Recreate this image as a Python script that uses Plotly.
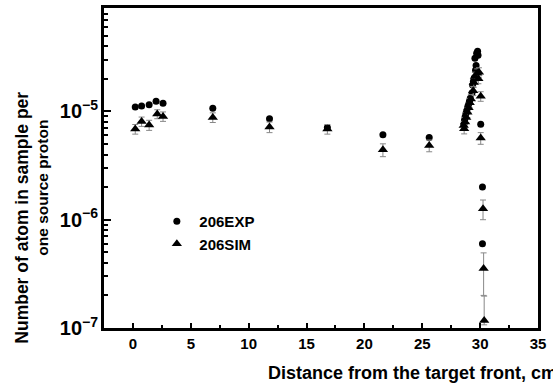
import plotly.graph_objects as go

# ---- data ----
exp_x = [0.2, 0.75, 1.4, 2.0, 2.6, 6.9, 11.8, 16.8, 21.6, 25.6,
         28.60, 28.65, 28.70, 28.78, 28.85, 28.92, 29.00, 29.08, 29.15, 29.30,
         29.35, 29.42, 29.50, 29.60, 29.65, 29.55, 29.70, 29.78, 29.82,
         30.05, 30.2, 30.2]
exp_y = [1.10e-5, 1.12e-5, 1.15e-5, 1.24e-5, 1.19e-5, 1.07e-5, 8.55e-6, 7.1e-6, 6.08e-6, 5.75e-6,
         7.6e-6, 8.3e-6, 8.9e-6, 9.6e-6, 1.02e-5, 1.09e-5, 1.16e-5, 1.24e-5, 1.32e-5, 1.48e-5,
         1.75e-5, 1.90e-5, 2.05e-5, 2.40e-5, 2.65e-5, 3.10e-5, 3.45e-5, 3.60e-5, 3.30e-5,
         7.6e-6, 2.0e-6, 6.0e-7]

sim_x = [0.2, 0.75, 1.4, 2.1, 2.6, 6.9, 11.8, 16.8, 21.6, 25.6,
         28.62, 28.58, 28.70, 28.80, 28.90, 29.00, 29.10, 29.20, 29.40, 29.45,
         29.55, 29.75, 29.90, 29.85, 30.05,
         30.05, 30.25, 30.3, 30.35]
sim_y = [6.87e-6, 8.07e-6, 7.48e-6, 9.46e-6, 8.99e-6, 8.8e-6, 7.17e-6, 6.87e-6, 4.42e-6, 4.84e-6,
         6.9e-6, 7.4e-6, 8.0e-6, 8.8e-6, 9.8e-6, 1.08e-5, 1.20e-5, 1.30e-5, 1.55e-5, 1.85e-5,
         2.10e-5, 2.25e-5, 2.30e-5, 2.00e-5, 1.38e-5,
         5.67e-6, 1.26e-6, 3.55e-7, 1.17e-7]
sim_err_plus = [0.7e-6, 0.8e-6, 0.8e-6, 0.9e-6, 0.9e-6, 0.9e-6, 0.8e-6, 0.7e-6, 0.6e-6, 0.6e-6,
                0.7e-6, 0.7e-6, 0.8e-6, 0.9e-6, 1.0e-6, 1.1e-6, 1.2e-6, 1.3e-6, 1.5e-6, 1.8e-6,
                2.0e-6, 2.2e-6, 2.3e-6, 2.0e-6, 1.4e-6,
                0.7e-6, 0.26e-6, 1.39e-7, 0.8e-7]
sim_err_minus = [0.7e-6, 0.8e-6, 0.8e-6, 0.9e-6, 0.9e-6, 0.9e-6, 0.8e-6, 0.7e-6, 0.6e-6, 0.6e-6,
                 0.7e-6, 0.7e-6, 0.8e-6, 0.9e-6, 1.0e-6, 1.1e-6, 1.2e-6, 1.3e-6, 1.5e-6, 1.8e-6,
                 2.0e-6, 2.2e-6, 2.3e-6, 2.0e-6, 1.4e-6,
                 0.7e-6, 0.26e-6, 1.55e-7, 0.1e-7]

x_ticks = [0, 5, 10, 15, 20, 25, 30, 35]

FONT = "Liberation Sans, Arial, sans-serif"

fig = go.Figure()
fig.add_trace(go.Scatter(
    x=exp_x, y=exp_y, mode="markers", name="206EXP",
    marker=dict(symbol="circle", size=7, color="black"),
))
fig.add_trace(go.Scatter(
    x=sim_x, y=sim_y, mode="markers", name="206SIM",
    marker=dict(symbol="triangle-up", size=9, color="black"),
    error_y=dict(type="data", symmetric=False, array=sim_err_plus, arrayminus=sim_err_minus,
                 color="#888888", thickness=1, width=3),
))

fig.update_layout(
    width=553, height=386,
    margin=dict(l=104, r=15, t=8, b=58, autoexpand=False),
    paper_bgcolor="white", plot_bgcolor="white",
    font=dict(family=FONT, size=15, color="black", weight="bold"),
    showlegend=True,
    legend=dict(x=0.116, y=0.384, xanchor="left", yanchor="top", itemwidth=35,
                bgcolor="rgba(0,0,0,0)", font=dict(size=15, weight="bold")),
    xaxis=dict(range=[-2.5, 35], tickmode="array", tickvals=x_ticks,
               ticks="inside", ticklen=5, tickwidth=1.5, tickcolor="black",
               minor=dict(ticks="inside", ticklen=3, dtick=2.5, tick0=0, tickcolor="black", showgrid=False),
               showline=True, linewidth=2.5, linecolor="black", mirror=True,
               showgrid=False, zeroline=False, automargin=False,
               tickfont=dict(family=FONT, size=15, weight="bold")),
    yaxis=dict(type="log", range=[-7, -4.045], dtick=1, exponentformat="power",
               ticks="inside", ticklen=7, tickwidth=1.5, tickcolor="black",
               minor=dict(ticks="inside", ticklen=4, dtick="D1", tickcolor="black", showgrid=False),
               showline=True, linewidth=2.5, linecolor="black", mirror=True,
               showgrid=False, zeroline=False, automargin=False,
               tickfont=dict(family=FONT, size=16, weight="bold")),
    annotations=[
        dict(text="Distance from the target front, cm", xref="paper", yref="paper",
             x=0.3726, y=-0.14, xanchor="left", yanchor="middle", showarrow=False,
             font=dict(family=FONT, size=18, weight="bold")),
        dict(text="Number of atom in sample per", xref="paper", yref="paper",
             x=(21.7 - 104) / 434, y=(328 - 218) / 320, xanchor="center", yanchor="middle",
             textangle=-90, showarrow=False,
             font=dict(family=FONT, size=17.5, weight="bold")),
        dict(text="one source proton", xref="paper", yref="paper",
             x=(41.7 - 104) / 434, y=(328 - 188) / 320, xanchor="center", yanchor="middle",
             textangle=-90, showarrow=False,
             font=dict(family=FONT, size=15.5, weight="bold")),
    ],
)

fig.write_html(
    "out.html",
    config={"displayModeBar": False},
    post_script="document.body.style.margin='0';document.body.style.padding='0';"
                "document.documentElement.style.overflow='hidden';",
)
